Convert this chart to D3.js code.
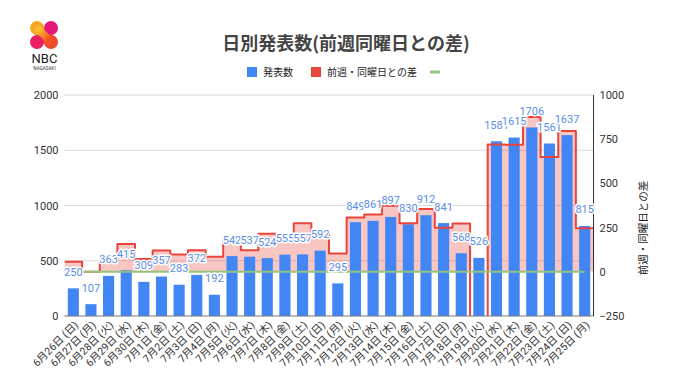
<!DOCTYPE html>
<html><head><meta charset="utf-8">
<script src="https://cdn.jsdelivr.net/npm/d3@7"></script>
<style>
body{margin:0;background:#fff;}
svg{display:block;font-family:Roboto,"Noto Sans CJK JP",sans-serif;}
</style>
</head><body>
<svg id="c" width="680" height="382"></svg>
<script>
const categories = ["6月26日 (日)","6月27日 (月)","6月28日 (火)","6月29日 (水)","6月30日 (木)","7月1日 (金)","7月2日 (土)","7月3日 (日)","7月4日 (月)","7月5日 (火)","7月6日 (水)","7月7日 (木)","7月8日 (金)","7月9日 (土)","7月10日 (日)","7月11日 (月)","7月12日 (火)","7月13日 (水)","7月14日 (木)","7月15日 (金)","7月16日 (土)","7月17日 (日)","7月18日 (月)","7月19日 (火)","7月20日 (水)","7月21日 (木)","7月22日 (金)","7月23日 (土)","7月24日 (日)","7月25日 (月)"];
const counts = [250,107,363,415,309,357,283,372,192,542,537,524,555,557,592,295,849,861,897,830,912,841,568,526,1581,1615,1706,1561,1637,815];
const diffs = [57,0,60,157,72,120,98,122,85,179,122,215,198,274,220,103,307,324,373,275,355,249,273,-323,720,718,876,649,796,247];
const zeroLine = [0,0,0,0,0,0,0,0,0,0,0,0,0,0,0,0,0,0,0,0,0,0,0,0,0,0,0,0,0,0];
const leftTicks = [0,500,1000,1500,2000];
const rightTicks = [-250,0,250,500,750,1000];
const titleText = "日別発表数(前週同曜日との差)";
const legendNames = ["発表数","前週・同曜日との差",""];
const rightTitle = "前週・同曜日との差";

const svg = d3.select("#c");
const L = 64.5, R = 593.5, T = 95, B = 316;
const x = d3.scaleBand().domain(categories).range([L, R]).paddingInner(0.37).paddingOuter(0.185);
const step = x.step();
const slot0 = c => x(c) - step * 0.185;
const yL = d3.scaleLinear().domain([0, 2000]).range([B, T]);
const yR = d3.scaleLinear().domain([-250, 1000]).range([B, T]);

const BLUE = "#4285f4", RED = "#e8453c", GREEN = "#93c47d";

// logo
const defs = svg.append("defs");
const g1 = defs.append("linearGradient").attr("id","lg1").attr("x1","0").attr("y1","0").attr("x2","1").attr("y2","1");
g1.append("stop").attr("offset","0").attr("stop-color","#fbc02d");
g1.append("stop").attr("offset","1").attr("stop-color","#f4511e");
defs.append("clipPath").attr("id","plot").append("rect").attr("x",L).attr("y",T).attr("width",R-L).attr("height",B-T);
const logo = svg.append("g");
logo.append("line").attr("x1",37).attr("y1",28).attr("x2",51).attr("y2",42).attr("stroke","url(#lg1)").attr("stroke-width",12).attr("stroke-linecap","round");
logo.append("circle").attr("cx",37).attr("cy",28).attr("r",7).attr("fill","#f9a825");
logo.append("circle").attr("cx",51).attr("cy",28).attr("r",7).attr("fill","#e5177b");
logo.append("circle").attr("cx",37).attr("cy",42).attr("r",7).attr("fill","#e91e63");
logo.append("circle").attr("cx",51).attr("cy",42).attr("r",7).attr("fill","#ef4a2a");
logo.append("line").attr("x1",39).attr("y1",30).attr("x2",49).attr("y2",40).attr("stroke","url(#lg1)").attr("stroke-width",8).attr("stroke-linecap","round").attr("opacity",0.85);
logo.append("text").attr("x",44.5).attr("y",63).attr("text-anchor","middle").attr("font-size",13).attr("font-family","Roboto, sans-serif").attr("fill","#222").text("NBC");
logo.append("text").attr("x",44.5).attr("y",69.5).attr("text-anchor","middle").attr("font-size",4.6).attr("font-family","Roboto, sans-serif").attr("fill","#333").text("NAGASAKI");

// title
svg.append("text").attr("x",346).attr("y",50).attr("text-anchor","middle")
  .attr("font-size",18).attr("font-weight","bold").attr("fill","#444")
  .attr("font-family","'Noto Sans CJK JP', sans-serif").text(titleText);

// legend
const lg = svg.append("g").attr("font-size",10).attr("fill","#222").attr("font-family","'Noto Sans CJK JP', sans-serif");
lg.append("rect").attr("x",247).attr("y",67).attr("width",10).attr("height",10).attr("fill",BLUE);
lg.append("text").attr("x",263).attr("y",76).text(legendNames[0]);
lg.append("rect").attr("x",311).attr("y",67).attr("width",10).attr("height",10).attr("fill",RED);
lg.append("text").attr("x",327).attr("y",76).text(legendNames[1]);
lg.append("line").attr("x1",430).attr("x2",440).attr("y1",72).attr("y2",72).attr("stroke",GREEN).attr("stroke-width",3);

// gridlines
svg.append("g").selectAll("line").data(leftTicks.filter(d=>d>0)).join("line")
  .attr("x1",L).attr("x2",R).attr("y1",d=>yL(d)).attr("y2",d=>yL(d))
  .attr("stroke","#d9d9d9").attr("stroke-width",1);

// stepped area (fill only above zero)
const pts = categories.map((c,i)=>({x: slot0(c), v: diffs[i]}));
pts.push({x: slot0(categories[categories.length-1]) + step, v: diffs[diffs.length-1]});
const plotG = svg.append("g").attr("clip-path","url(#plot)");
plotG.append("path").datum(pts)
  .attr("d", d3.area().curve(d3.curveStepAfter).x(d=>d.x).y0(yR(0)).y1(d=>yR(Math.max(0,d.v))))
  .attr("fill", RED).attr("fill-opacity",0.3);

// bars
svg.append("g").selectAll("rect").data(counts).join("rect")
  .attr("x",(d,i)=>x(categories[i])).attr("width",x.bandwidth())
  .attr("y",d=>yL(d)).attr("height",d=>B-yL(d)).attr("fill",BLUE);

// red step line
svg.append("g").attr("clip-path","url(#plot)").append("path").datum(pts)
  .attr("d", d3.line().curve(d3.curveStepAfter).x(d=>d.x).y(d=>yR(d.v)))
  .attr("fill","none").attr("stroke",RED).attr("stroke-width",2).attr("stroke-linejoin","round");

// green zero line
svg.append("path").datum(zeroLine)
  .attr("d", d3.line().x((d,i)=>x(categories[i])+x.bandwidth()/2).y(d=>yR(d)))
  .attr("fill","none").attr("stroke",GREEN).attr("stroke-width",2);

// axes lines
svg.append("line").attr("x1",L).attr("x2",R).attr("y1",B).attr("y2",B).attr("stroke","#777").attr("stroke-width",1.2);
svg.append("line").attr("x1",R).attr("x2",R).attr("y1",T).attr("y2",B).attr("stroke","#333").attr("stroke-width",1);

// bar value labels
svg.append("g").selectAll("text").data(counts).join("text")
  .attr("x",(d,i)=>x(categories[i])+x.bandwidth()/2).attr("y",d=>yL(d)-12.5)
  .attr("text-anchor","middle").attr("font-size",11).attr("fill","#5a8ee6")
  .attr("stroke","#fff").attr("stroke-width",3).attr("paint-order","stroke").attr("stroke-linejoin","round")
  .text(d=>d);

// left axis
const la = svg.append("g").attr("transform",`translate(${L},0)`)
  .call(d3.axisLeft(yL).tickValues(leftTicks).tickSize(0).tickPadding(6).tickFormat(d3.format("d")));
la.select(".domain").remove();
la.selectAll("text").attr("font-size",11).attr("fill","#333").attr("font-family","Roboto, sans-serif");

// right axis
const ra = svg.append("g").attr("transform",`translate(${R},0)`)
  .call(d3.axisRight(yR).tickValues(rightTicks).tickSize(0).tickPadding(6).tickFormat(d3.format("d")));
ra.select(".domain").remove();
ra.selectAll("text").attr("font-size",11).attr("fill","#333").attr("font-family","Roboto, sans-serif");

svg.append("text").attr("transform","translate(647,228) rotate(-90)").attr("text-anchor","middle")
  .attr("font-size",10.5).attr("fill","#222").attr("font-family","'Noto Sans CJK JP', sans-serif").text(rightTitle);

// x labels
svg.append("g").selectAll("text").data(categories).join("text")
  .attr("transform",c=>`translate(${x(c)+x.bandwidth()/2+3},323) rotate(-45)`)
  .attr("text-anchor","end").attr("dy","0.35em")
  .attr("font-size",10.5).attr("fill","#333").attr("font-family","Roboto, 'Noto Sans CJK JP', sans-serif")
  .text(c=>c);
</script>
</body></html>
